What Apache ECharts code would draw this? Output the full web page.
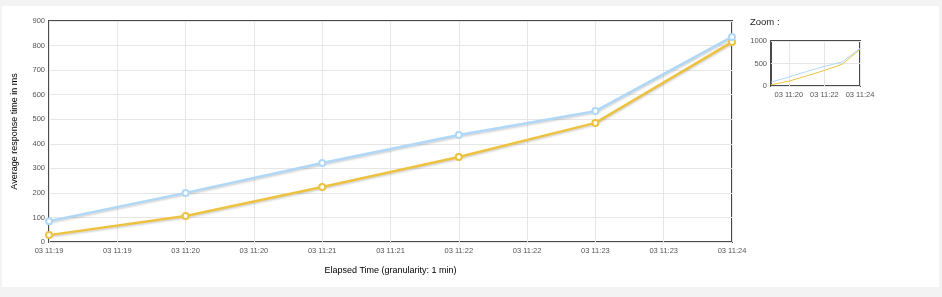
<!DOCTYPE html>
<html>
<head>
<meta charset="utf-8">
<script src="https://cdn.jsdelivr.net/npm/echarts@6/dist/echarts.min.js"></script>
<style>
  html, body { margin: 0; padding: 0; width: 942px; height: 297px; background: #f3f3f3; overflow: hidden; }
  #panel { position: absolute; left: 2px; top: 6px; width: 937px; height: 281px; background: #ffffff; }
  #chart { position: absolute; left: 0; top: 0; width: 942px; height: 297px; }
</style>
</head>
<body>
<div id="panel"></div>
<div id="chart"></div>
<script>
// ---- data ----
const timeCategories = ['11:19', '11:20', '11:21', '11:22', '11:23', '11:24'];
const seriesYellow = [28, 106, 224, 346, 485, 814];
const seriesBlue = [85, 200, 322, 436, 533, 835];
const mainXTickLabels = ['03 11:19', '03 11:19', '03 11:20', '03 11:20', '03 11:21', '03 11:21',
                         '03 11:22', '03 11:22', '03 11:23', '03 11:23', '03 11:24'];
const zoomXCategories = ['03 11:19', '03 11:20', '03 11:21', '03 11:22', '03 11:23', '03 11:24'];
const zoomXShownIdx = [1, 3, 5];
const zoomYTicks = [0, 500, 1000];
const yAxisTitle = 'Average response time in ms';
const xAxisTitle = 'Elapsed Time (granularity: 1 min)';
const zoomTitle = 'Zoom :';

// ---- helpers ----
const minutes = timeCategories.map(t => { const p = t.split(':'); return (+p[0]) * 60 + (+p[1]); });
const xMin = minutes[0], xMax = minutes[minutes.length - 1];
const pairs = arr => arr.map((v, i) => [minutes[i], v]);

const tickFont = { fontFamily: 'Arial, "Liberation Sans", sans-serif', fontSize: 7.5, color: '#545454' };
const nameFont = { fontFamily: 'Arial, "Liberation Sans", sans-serif', fontSize: 9, color: '#000' };
const gridLine = { show: true, lineStyle: { color: '#e6e6e6', width: 1 } };

const chart = echarts.init(document.getElementById('chart'), null, { renderer: 'canvas' });

function mainSeries(name, data, color) {
  return {
    name, type: 'line', xAxisIndex: 0, yAxisIndex: 0, data: pairs(data),
    symbol: 'emptyCircle', symbolSize: 6, clip: false, z: 3,
    lineStyle: { color, width: 2.5, shadowColor: 'rgba(0,0,0,0.18)', shadowBlur: 2, shadowOffsetY: 1.5 },
    itemStyle: { color, borderColor: color, borderWidth: 1.5 },
    emphasis: { disabled: true }, animation: false
  };
}
function zoomSeries(name, data, color) {
  return {
    name: name + ' (zoom)', type: 'line', xAxisIndex: 1, yAxisIndex: 1, data: data.slice(),
    symbol: 'none', clip: true,
    lineStyle: { color, width: 1 },
    emphasis: { disabled: true }, animation: false
  };
}

chart.setOption({
  animation: false,
  backgroundColor: 'transparent',
  title: {
    text: zoomTitle, left: 750, top: 17, padding: 0,
    textStyle: { fontFamily: 'Arial, "Liberation Sans", sans-serif', fontSize: 9.5, fontWeight: 'normal', color: '#222' }
  },
  grid: [
    { left: 49, top: 21, width: 683, height: 221, show: true, borderWidth: 2, borderColor: '#4a4a4a', backgroundColor: 'transparent' },
    { left: 771, top: 41, width: 89, height: 45, show: true, borderWidth: 2, borderColor: '#4a4a4a', backgroundColor: 'transparent' }
  ],
  xAxis: [
    {
      type: 'value', gridIndex: 0, min: xMin, max: xMax, interval: 0.5,
      axisLine: { show: false }, axisTick: { show: false },
      splitLine: gridLine,
      axisLabel: Object.assign({ margin: 5, showMinLabel: true, showMaxLabel: true,
        formatter: v => mainXTickLabels[Math.round((v - xMin) * 2)] || '' }, tickFont),
      name: xAxisTitle, nameLocation: 'middle', nameGap: 24, nameTextStyle: nameFont
    },
    {
      type: 'category', gridIndex: 1, data: zoomXCategories, boundaryGap: false,
      axisLine: { show: false }, axisTick: { show: false },
      splitLine: { show: true, interval: (i) => zoomXShownIdx.indexOf(i) >= 0, lineStyle: { color: '#e6e6e6', width: 1 } },
      axisLabel: Object.assign({ margin: 5, interval: (i) => zoomXShownIdx.indexOf(i) >= 0 }, tickFont)
    }
  ],
  yAxis: [
    {
      type: 'value', gridIndex: 0, min: 0, max: 900, interval: 100,
      axisLine: { show: false }, axisTick: { show: false },
      splitLine: gridLine,
      axisLabel: Object.assign({ margin: 4 }, tickFont),
      name: yAxisTitle, nameLocation: 'middle', nameGap: 30, nameRotate: 90, nameTextStyle: nameFont
    },
    {
      type: 'value', gridIndex: 1, min: zoomYTicks[0], max: zoomYTicks[2], interval: zoomYTicks[1] - zoomYTicks[0],
      axisLine: { show: false }, axisTick: { show: false },
      splitLine: gridLine,
      axisLabel: Object.assign({ margin: 4, formatter: v => String(v) }, tickFont)
    }
  ],
  series: [
    mainSeries('Series 1', seriesYellow, '#edc240'),
    mainSeries('Series 2', seriesBlue, '#afd8f8'),
    zoomSeries('Series 1', seriesYellow, '#edc240'),
    zoomSeries('Series 2', seriesBlue, '#afd8f8')
  ]
});
</script>
</body>
</html>
